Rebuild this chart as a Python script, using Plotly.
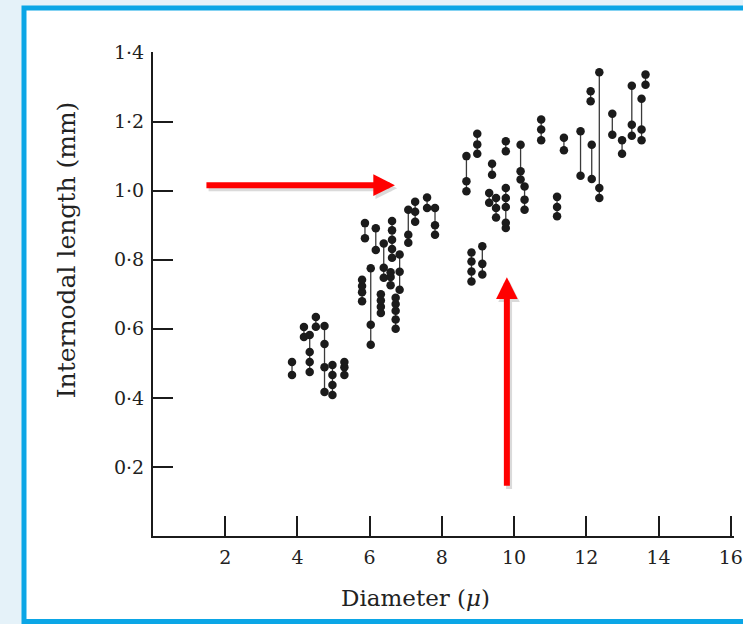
import plotly.graph_objects as go

# Fibre diameter (micron) for each measured fibre; internodes of one fibre share a diameter
diameters = [
    3.85, 4.18, 4.51, 4.34, 4.75, 4.97, 5.30,
    5.87, 6.17, 6.03, 5.79, 6.39, 6.31, 6.62, 6.83, 6.72, 6.58,
    7.07, 7.26, 7.59, 7.81,
    8.98, 8.68, 9.39, 9.77, 10.18, 10.29, 9.31, 9.50, 9.77, 11.19, 10.75, 8.82, 9.12,
    11.38, 11.84, 12.12, 12.15, 12.36, 12.72, 12.99, 13.26, 13.53, 13.64,
]

# Internodal lengths (mm) measured along each fibre
internode_lengths = [
    [0.466, 0.504], [0.576, 0.605], [0.606, 0.634], [0.475, 0.504, 0.533, 0.582],
    [0.417, 0.489, 0.556, 0.608], [0.408, 0.437, 0.466, 0.495], [0.466, 0.489, 0.504],
    [0.862, 0.906], [0.828, 0.891], [0.554, 0.612, 0.775], [0.680, 0.706, 0.724, 0.742],
    [0.748, 0.777, 0.847], [0.646, 0.664, 0.682, 0.700], [0.806, 0.831, 0.858, 0.885, 0.912],
    [0.713, 0.765, 0.815], [0.600, 0.627, 0.652, 0.672, 0.690], [0.726, 0.750, 0.764],
    [0.849, 0.872, 0.945], [0.910, 0.939, 0.968], [0.950, 0.980], [0.872, 0.900, 0.950],
    [1.107, 1.134, 1.165], [0.998, 1.027, 1.100], [1.046, 1.078], [1.114, 1.143],
    [1.032, 1.056, 1.133], [0.945, 0.974, 1.012], [0.965, 0.993], [0.922, 0.950, 0.979],
    [0.892, 0.907, 0.953, 0.979, 1.008], [0.926, 0.953, 0.982], [1.146, 1.177, 1.206],
    [0.737, 0.766, 0.795, 0.821], [0.757, 0.788, 0.839],
    [1.117, 1.153], [1.043, 1.172], [1.259, 1.288], [1.034, 1.133], [0.979, 1.008, 1.343],
    [1.162, 1.223], [1.107, 1.146], [1.159, 1.191, 1.304], [1.146, 1.177, 1.266],
    [1.307, 1.336],
]

x_ticks = [2, 4, 6, 8, 10, 12, 14, 16]
y_ticks = [0.2, 0.4, 0.6, 0.8, 1.0, 1.2, 1.4]
y_tick_text = ["0·2", "0·4", "0·6", "0·8", "1·0", "1·2", "1·4"]

INK = "#1b1b1b"
SERIF = "DejaVu Serif, Liberation Serif, serif"

# vertical connectors joining internodes of the same fibre
line_x, line_y = [], []
pt_x, pt_y = [], []
for d, lengths in zip(diameters, internode_lengths):
    if len(lengths) > 1:
        line_x += [d, d, None]
        line_y += [min(lengths), max(lengths), None]
    pt_x += [d] * len(lengths)
    pt_y += lengths

fig = go.Figure()
fig.add_trace(go.Scatter(x=line_x, y=line_y, mode="lines",
                         line=dict(color="#3a3a3a", width=1.3),
                         hoverinfo="skip", showlegend=False))
fig.add_trace(go.Scatter(x=pt_x, y=pt_y, mode="markers",
                         marker=dict(color=INK, size=8.5, line=dict(width=0)),
                         showlegend=False))

W, H = 743, 624
ML, MR, MT, MB = 153, 0, 52, 88
pw, ph = W - ML - MR, H - MT - MB


def px_to_paper(px, py):
    return (px - ML) / pw, (H - MB - py) / ph


# white card with blue border
fx0, fy0 = px_to_paper(22, 621.5)
fx1, fy1 = px_to_paper(760, 8)
fig.add_shape(type="rect", xref="paper", yref="paper",
              x0=fx0, y0=fy0, x1=fx1, y1=fy1,
              line=dict(color="#0ba6e6", width=5), fillcolor="white", layer="below")

annotations = []
tx, ty = px_to_paper(66, 250)
annotations.append(dict(text="Internodal length (mm)", xref="paper", yref="paper",
                        x=tx, y=ty, xanchor="center", yanchor="middle",
                        textangle=-90, showarrow=False,
                        font=dict(family=SERIF, size=25, color="#222")))
tx, ty = px_to_paper(420, 598)
annotations.append(dict(text="Diameter (<i>μ</i>)", xref="paper", yref="paper",
                        x=tx, y=ty, xanchor="center", yanchor="middle", showarrow=False,
                        font=dict(family=SERIF, size=23, color="#222")))

# red pointer arrows (with a soft drop shadow)
arrows = [dict(x=6.70, y=1.016, ax=-190, ay=0), dict(x=9.80, y=0.749, ax=0, ay=210)]
for a in arrows:
    annotations.append(dict(x=a["x"] + 0.06, y=a["y"] - 0.009, ax=a["ax"], ay=a["ay"],
                            xref="x", yref="y", text="", showarrow=True,
                            arrowhead=2, arrowsize=0.72, arrowwidth=6,
                            arrowcolor="rgba(0,0,0,0.14)", standoff=0))
    annotations.append(dict(x=a["x"], y=a["y"], ax=a["ax"], ay=a["ay"],
                            xref="x", yref="y", text="", showarrow=True,
                            arrowhead=2, arrowsize=0.72, arrowwidth=6,
                            arrowcolor="#ff0000", standoff=0))

fig.update_layout(
    width=W, height=H,
    margin=dict(l=ML, r=MR, t=MT, b=MB, pad=0),
    paper_bgcolor="#e5f2f9",
    plot_bgcolor="rgba(0,0,0,0)",
    annotations=annotations,
    showlegend=False,
)
fig.update_xaxes(range=[0, 16.09], tickvals=x_ticks, ticktext=[str(v) for v in x_ticks],
                 ticks="inside", ticklen=20, tickwidth=1.5, tickcolor=INK,
                 showline=True, linewidth=2, linecolor=INK,
                 showgrid=False, zeroline=False, ticklabelstandoff=3,
                 ticklabeloverflow="allow",
                 tickfont=dict(family=SERIF, size=19, color="#222"))
fig.update_yaxes(range=[0, 1.4015], tickvals=y_ticks, ticktext=y_tick_text,
                 ticks="inside", ticklen=20, tickwidth=1.5, tickcolor=INK,
                 showline=True, linewidth=2, linecolor=INK,
                 showgrid=False, zeroline=False, ticklabelstandoff=3,
                 tickfont=dict(family=SERIF, size=19, color="#222"))

fig.write_html("out.html")
